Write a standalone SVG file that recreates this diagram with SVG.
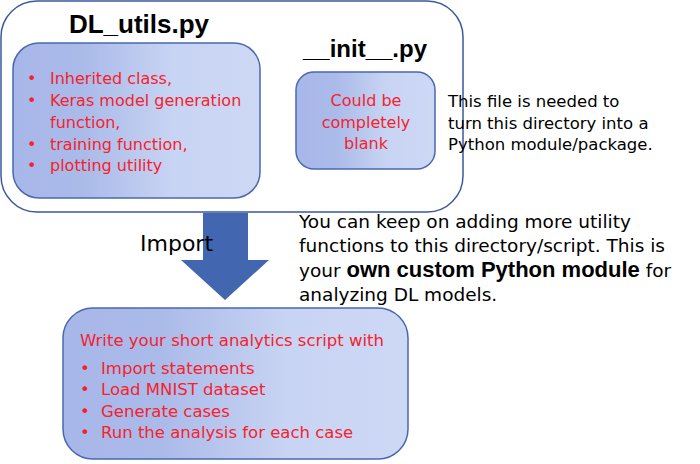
<svg xmlns="http://www.w3.org/2000/svg" width="700" height="464" viewBox="0 0 700 464">
<defs>
<linearGradient id="fillg" x1="0" y1="0" x2="1" y2="0">
<stop offset="0" stop-color="#A8B7E9"/>
<stop offset="0.28" stop-color="#AABAE9"/>
<stop offset="0.65" stop-color="#C8D4F3"/>
<stop offset="1" stop-color="#CDD8F5"/>
</linearGradient>
<style>
.box{fill:url(#fillg);stroke:#4A68AE;stroke-width:1.5}
.red{font-family:"DejaVu Sans",sans-serif;font-size:16px;fill:#F5222D}
.red2{font-family:"DejaVu Sans",sans-serif;font-size:16.5px;fill:#F5222D}
.blk{font-family:"DejaVu Sans",sans-serif;fill:#000}
.title{font-family:"Liberation Sans",Arial,sans-serif;font-weight:bold;fill:#000}
.bold{font-family:"Liberation Sans",Arial,sans-serif;font-weight:bold}
</style>
</defs>
<rect width="700" height="464" fill="#fff"/>
<g id="outer">
<rect x="1" y="1" width="462" height="211" rx="36" fill="none" stroke="#3A5A9A" stroke-width="1.5"/>
</g>
<g id="dl_utils">
<text class="title" x="139" y="33" font-size="26" text-anchor="middle">DL_utils.py</text>
<rect class="box" x="13" y="43" width="247" height="155" rx="26"/>
<text class="red" x="27" y="84">•</text><text class="red" x="50" y="84">Inherited class,</text>
<text class="red" x="27" y="106">•</text><text class="red" x="50" y="106">Keras model generation</text>
<text class="red" x="50" y="128">function,</text>
<text class="red" x="27" y="150">•</text><text class="red" x="50" y="150">training function,</text>
<text class="red" x="27" y="171">•</text><text class="red" x="50" y="171">plotting utility</text>
</g>
<g id="init">
<text class="title" x="365" y="57" font-size="24" text-anchor="middle">__init__.py</text>
<rect class="box" x="296" y="72" width="139" height="97" rx="18"/>
<text class="red" x="366" y="106" text-anchor="middle">Could be</text>
<text class="red" x="366" y="128" text-anchor="middle">completely</text>
<text class="red" x="366" y="149" text-anchor="middle">blank</text>
</g>
<g id="note_init">
<text class="blk" font-size="16.5" x="448" y="107">This file is needed to</text>
<text class="blk" font-size="16.5" x="448" y="129">turn this directory into a</text>
<text class="blk" font-size="16.5" x="448" y="150">Python module/package.</text>
</g>
<g id="note_module">
<text class="blk" font-size="18.5" x="299" y="228">You can keep on adding more utility</text>
<text class="blk" font-size="18.5" x="299" y="252">functions to this directory/script. This is</text>
<text class="blk" font-size="18.5" x="299" y="277">your <tspan class="bold" font-size="22">own custom Python module</tspan> for</text>
<text class="blk" font-size="18.5" x="299" y="301">analyzing DL models.</text>
</g>
<g id="connectors">
<polygon points="203,213 248,213 248,260 269,260 225,300 181,260 203,260" fill="#4267B0"/>
</g>
<g id="import_label">
<text class="blk" font-size="22" x="140" y="251">Import</text>
</g>
<g id="script">
<rect class="box" x="63" y="308" width="345" height="151" rx="30"/>
<text class="red2" x="80" y="346">Write your short analytics script with</text>
<text class="red2" x="80" y="374">•</text><text class="red2" x="101" y="374">Import statements</text>
<text class="red2" x="80" y="395">•</text><text class="red2" x="101" y="395">Load MNIST dataset</text>
<text class="red2" x="80" y="417">•</text><text class="red2" x="101" y="417">Generate cases</text>
<text class="red2" x="80" y="438">•</text><text class="red2" x="101" y="438">Run the analysis for each case</text>
</g>
</svg>
